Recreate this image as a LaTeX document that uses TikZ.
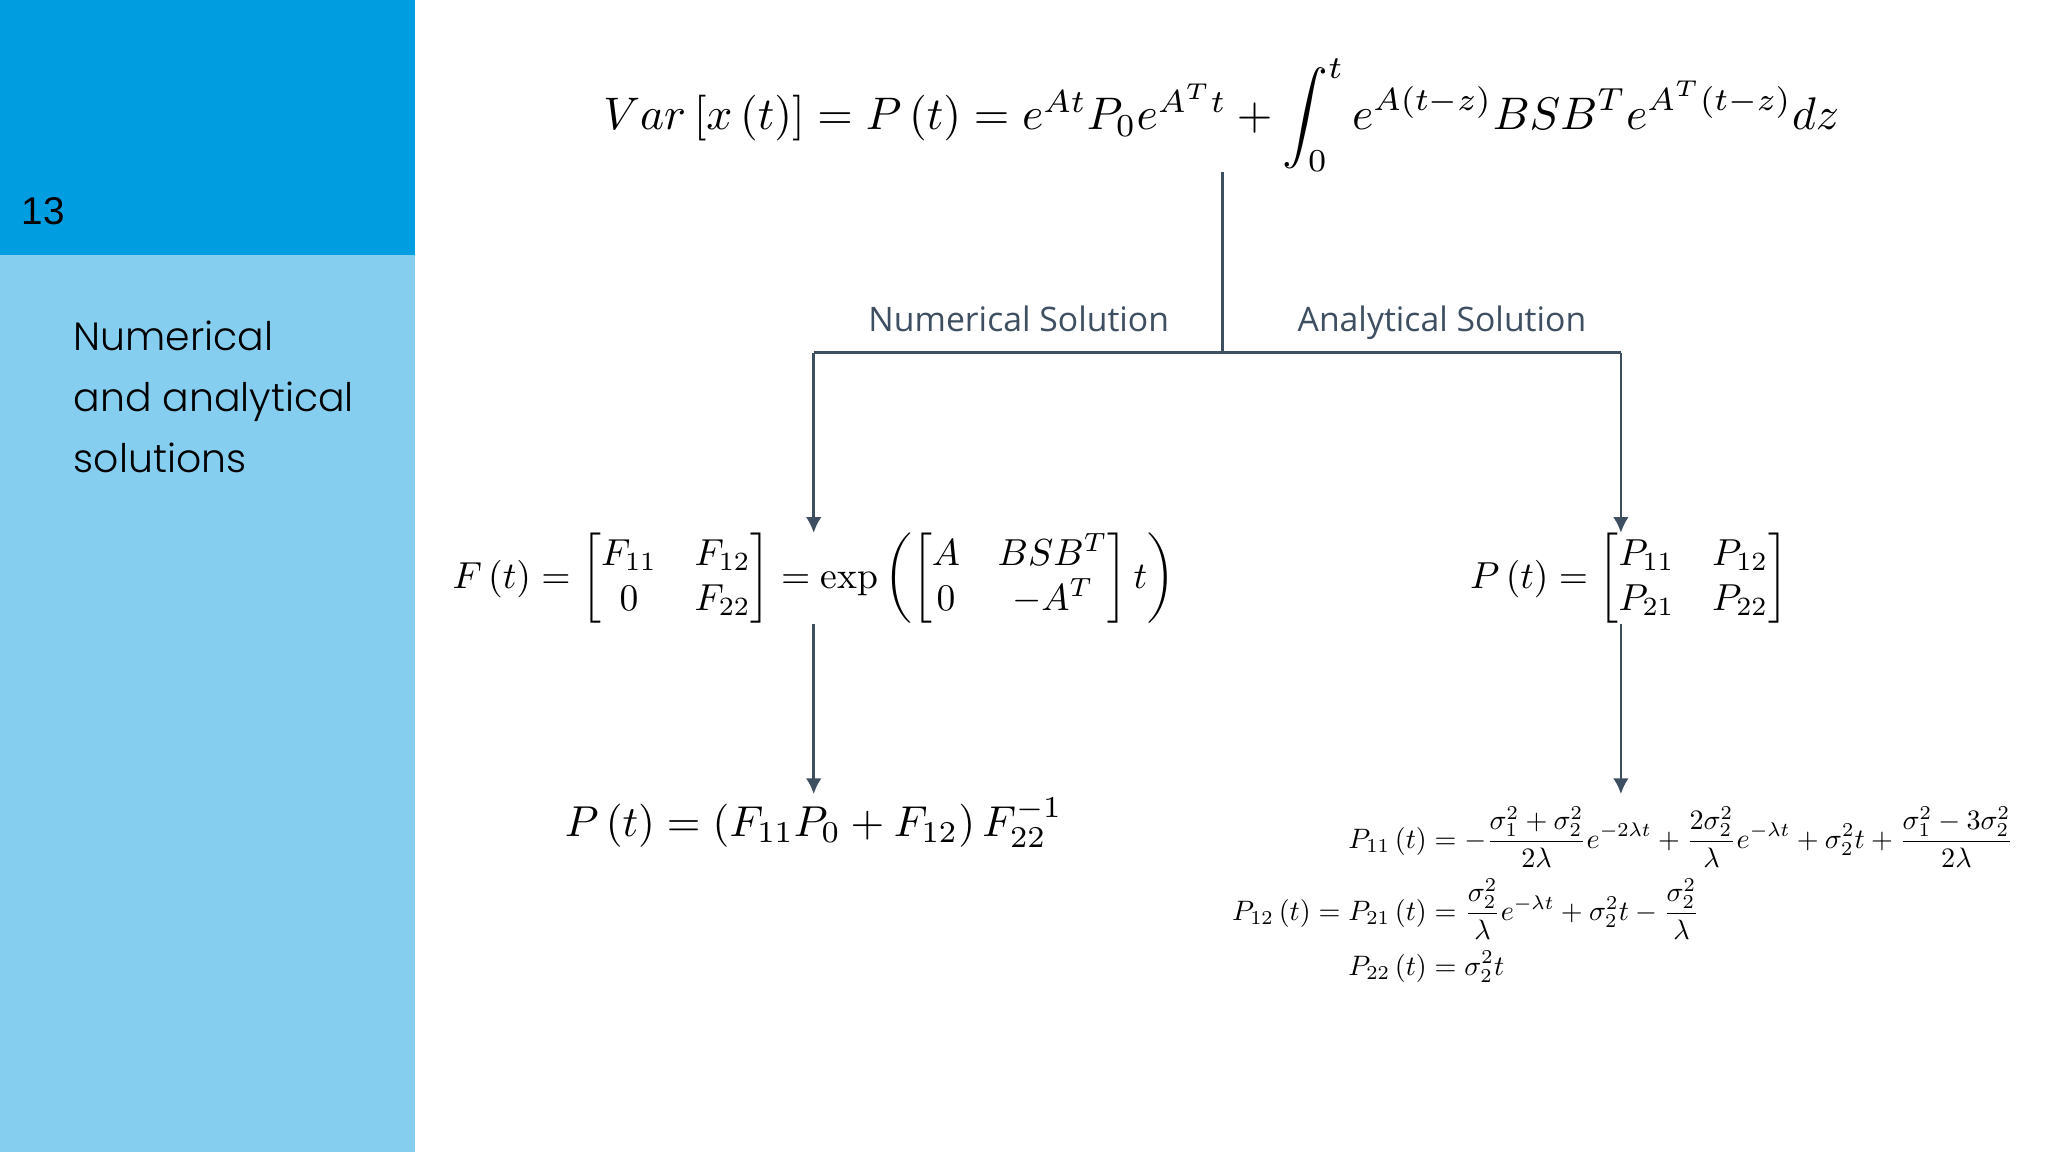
\documentclass[tikz,border=0pt]{standalone}
\usepackage{amsmath}
\usepackage{fontspec}
\newfontfamily\popf{Poppins Light}
\newfontfamily\labf{Open Sans}
\newfontfamily\numf{Liberation Sans}
\usetikzlibrary{arrows.meta}
\definecolor{darkblue}{RGB}{0,158,224}
\definecolor{lightblue}{RGB}{134,206,240}
\definecolor{slate}{RGB}{61,79,97}
\begin{document}
\begin{tikzpicture}[x=0.01306cm,y=-0.01306cm,
  conn/.style={draw=slate,line width=0.8pt},
  arr/.style={conn,-{Latex[length=4.5pt,width=4.5pt]}},
  lab/.style={text=slate,font=\labf\fontsize{9.6}{11}\selectfont,anchor=base},
  eq/.style={inner sep=0pt}]
\useasboundingbox (0,0) rectangle (1568,882);
\fill[darkblue] (0,0) rectangle (318,195);
\fill[lightblue] (0,195) rectangle (318,882);
\node[anchor=west,font=\numf\fontsize{11}{13}\selectfont,inner sep=0pt] (num) at (16,162) {13};
\node[anchor=north west,align=left,font=\popf\fontsize{11.2}{17.4}\selectfont,inner sep=0pt] (title) at (56,245)
  {Numerical\\and analytical\\solutions};
\node[eq,scale=1.30] (top) at (935,88)
  {$Var\left[x\left(t\right)\right]=P\left(t\right)=e^{At}P_0e^{A^Tt}+\displaystyle\int_0^t e^{A(t-z)}BSB^Te^{A^T(t-z)}dz$};
\coordinate (c0) at (936,132);
\coordinate (c1) at (936,270);
\coordinate (cl) at (623,270);
\coordinate (cr) at (1241,270);
\node[lab] (ln) at (780,254) {Numerical Solution};
\node[lab] (la) at (1104,254) {Analytical Solution};
\node[eq,scale=1.07] (F) at (623,443)
  {$F\left(t\right)=\begin{bmatrix}F_{11} & F_{12}\\ 0 & F_{22}\end{bmatrix}=\exp\left(\begin{bmatrix}A & BSB^T\\ 0 & -A^T\end{bmatrix}t\right)$};
\node[eq,scale=1.07,anchor=west] (P) at (1125,443)
  {$P\left(t\right)=\begin{bmatrix}P_{11} & P_{12}\\ P_{21} & P_{22}\end{bmatrix}$};
\coordinate (fl) at (623,408);
\coordinate (fr) at (1241,408);
\coordinate (gl0) at (623,478);
\coordinate (gl1) at (623,608);
\coordinate (gr0) at (1241,478);
\coordinate (gr1) at (1241,608);
\node[eq,scale=1.23] (res) at (623,630)
  {$P\left(t\right)=\left(F_{11}P_0+F_{12}\right)F_{22}^{-1}$};
\node[eq,scale=0.80,anchor=west] (ana) at (943,686)
  {$\begin{aligned}
  P_{11}\left(t\right)&=-\frac{\sigma_1^2+\sigma_2^2}{2\lambda}e^{-2\lambda t}+\frac{2\sigma_2^2}{\lambda}e^{-\lambda t}+\sigma_2^2t+\frac{\sigma_1^2-3\sigma_2^2}{2\lambda}\\
  P_{12}\left(t\right)=P_{21}\left(t\right)&=\frac{\sigma_2^2}{\lambda}e^{-\lambda t}+\sigma_2^2t-\frac{\sigma_2^2}{\lambda}\\
  P_{22}\left(t\right)&=\sigma_2^2t
  \end{aligned}$};
\draw[conn] (c0) -- (c1);
\draw[conn] (cl) -- (cr);
\draw[arr] (cl) -- (fl);
\draw[arr] (cr) -- (fr);
\draw[arr] (gl0) -- (gl1);
\draw[arr] (gr0) -- (gr1);
\end{tikzpicture}
\end{document}
